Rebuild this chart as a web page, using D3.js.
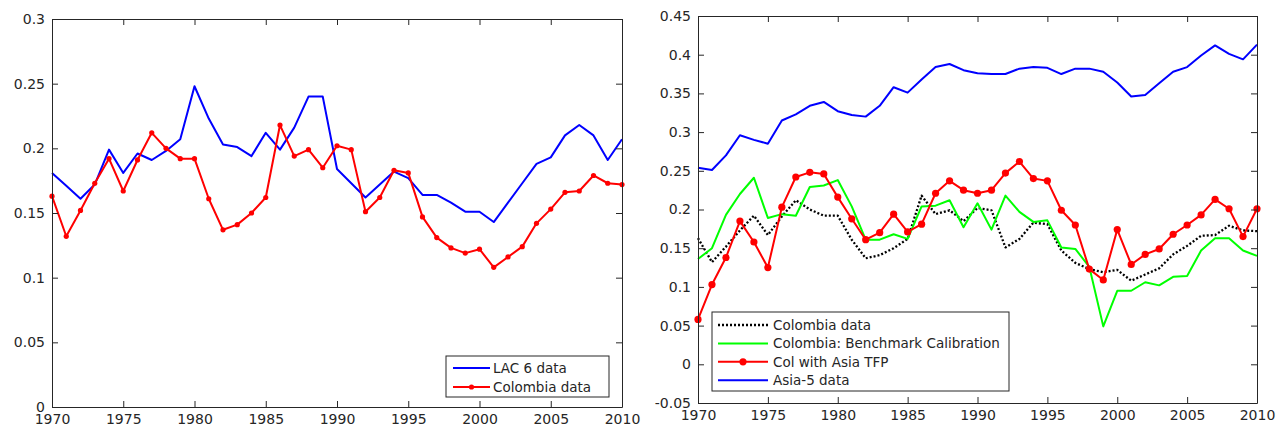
<!DOCTYPE html>
<html>
<head>
<meta charset="utf-8">
<script src="https://cdn.jsdelivr.net/npm/d3@7"></script>
<style>
  body { margin: 0; background: #fff; }
  text { font-family: "DejaVu Sans", sans-serif; fill: #262626; }
</style>
</head>
<body>
<div id="chart"></div>
<script>
// Years 1970..2010
const years = d3.range(1970, 2011);

// Left panel
const lac6 = [0.181, 0.171, 0.161, 0.172, 0.199, 0.181, 0.196, 0.191, 0.198, 0.207,
  0.248, 0.223, 0.203, 0.201, 0.194, 0.212, 0.199, 0.216, 0.240, 0.240,
  0.184, 0.173, 0.162, 0.172, 0.182, 0.177, 0.164, 0.164, 0.158, 0.151,
  0.151, 0.143, 0.158, 0.173, 0.188, 0.193, 0.210, 0.218, 0.210, 0.191, 0.207];
const colombia = [0.163, 0.132, 0.152, 0.173, 0.192, 0.167, 0.191, 0.212, 0.200, 0.192,
  0.192, 0.161, 0.137, 0.141, 0.150, 0.162, 0.218, 0.194, 0.199, 0.185,
  0.202, 0.199, 0.151, 0.162, 0.183, 0.181, 0.147, 0.131, 0.123, 0.119,
  0.122, 0.108, 0.116, 0.124, 0.142, 0.153, 0.166, 0.167, 0.179, 0.173, 0.172];

// Right panel
const benchmark = [0.136, 0.150, 0.193, 0.220, 0.241, 0.189, 0.194, 0.192, 0.229, 0.231,
  0.238, 0.204, 0.161, 0.161, 0.168, 0.162, 0.204, 0.205, 0.212, 0.177,
  0.208, 0.174, 0.218, 0.197, 0.184, 0.186, 0.151, 0.149, 0.126, 0.049,
  0.095, 0.095, 0.106, 0.102, 0.113, 0.114, 0.147, 0.163, 0.163, 0.147, 0.140];
const colAsiaTfp = [0.058, 0.103, 0.138, 0.185, 0.158, 0.125, 0.203, 0.242, 0.248, 0.246,
  0.216, 0.188, 0.161, 0.170, 0.194, 0.171, 0.181, 0.221, 0.237, 0.225,
  0.221, 0.225, 0.247, 0.262, 0.240, 0.237, 0.199, 0.180, 0.123, 0.109,
  0.174, 0.129, 0.142, 0.149, 0.168, 0.180, 0.193, 0.213, 0.201, 0.165, 0.201];
const asia5 = [0.254, 0.251, 0.270, 0.296, 0.290, 0.285, 0.315, 0.323, 0.334, 0.339,
  0.327, 0.322, 0.320, 0.334, 0.358, 0.351, 0.368, 0.384, 0.388, 0.380,
  0.376, 0.375, 0.375, 0.382, 0.384, 0.383, 0.375, 0.382, 0.382, 0.378,
  0.364, 0.346, 0.348, 0.363, 0.378, 0.384, 0.399, 0.412, 0.401, 0.394, 0.413];

const xTicks = [1970, 1975, 1980, 1985, 1990, 1995, 2000, 2005, 2010];
const leftYTicks = [0, 0.05, 0.1, 0.15, 0.2, 0.25, 0.3];
const rightYTicks = [-0.05, 0, 0.05, 0.1, 0.15, 0.2, 0.25, 0.3, 0.35, 0.4, 0.45];

const svg = d3.select("#chart")
  .append("svg")
  .attr("width", 1278)
  .attr("height", 428);

const axisColor = "#262626";
const fmt = d => String(+d.toFixed(2));

function drawPanel(p) {
  const x = d3.scaleLinear().domain([1970, 2010]).range([p.left, p.right]);
  const y = d3.scaleLinear().domain(p.yDomain).range([p.bottom, p.top]);

  const g = svg.append("g");

  // series
  p.series.forEach(s => {
    const pts = years.map((yr, i) => ({ yr, v: s.values[i] }));
    const line = d3.line().x(d => x(d.yr)).y(d => y(d.v));
    g.append("path")
      .datum(pts)
      .attr("fill", "none")
      .attr("stroke", s.color)
      .attr("stroke-width", s.width || 2)
      .attr("stroke-dasharray", s.dash || null)
      .attr("stroke-linejoin", "round")
      .attr("d", line);
    if (s.marker) {
      g.selectAll(null)
        .data(pts)
        .enter().append("circle")
        .attr("cx", d => x(d.yr))
        .attr("cy", d => y(d.v))
        .attr("r", s.marker)
        .attr("fill", s.color);
    }
  });

  // axes (MATLAB style box, ticks inside)
  const styleAxis = sel => {
    sel.selectAll("path, line").attr("stroke", axisColor);
    sel.selectAll("text").style("font-size", "14px").attr("fill", axisColor);
  };
  g.append("g").attr("transform", `translate(0,${p.bottom})`)
    .call(d3.axisBottom(x).tickValues(xTicks).tickFormat(d3.format("d"))
      .tickSizeInner(-6).tickSizeOuter(0).tickPadding(7))
    .call(styleAxis);
  g.append("g").attr("transform", `translate(0,${p.top})`)
    .call(d3.axisTop(x).tickValues(xTicks).tickFormat("")
      .tickSizeInner(-6).tickSizeOuter(0))
    .call(styleAxis);
  g.append("g").attr("transform", `translate(${p.left},0)`)
    .call(d3.axisLeft(y).tickValues(p.yTicks).tickFormat(fmt)
      .tickSizeInner(-6).tickSizeOuter(0).tickPadding(7))
    .call(styleAxis);
  g.append("g").attr("transform", `translate(${p.right},0)`)
    .call(d3.axisRight(y).tickValues(p.yTicks).tickFormat("")
      .tickSizeInner(-6).tickSizeOuter(0))
    .call(styleAxis);
  g.selectAll(".domain").attr("stroke-width", 1);

  // legend
  const L = p.legend;
  g.append("rect")
    .attr("x", L.x).attr("y", L.y)
    .attr("width", L.w).attr("height", L.h)
    .attr("fill", "#fff").attr("stroke", axisColor).attr("stroke-width", 1);
  p.series.forEach((s, i) => {
    const cy = L.y + L.first + i * L.step;
    g.append("line")
      .attr("x1", L.x + L.lx0).attr("x2", L.x + L.lx1)
      .attr("y1", cy).attr("y2", cy)
      .attr("stroke", s.color)
      .attr("stroke-width", s.width || 2)
      .attr("stroke-dasharray", s.dash || null);
    if (s.marker) {
      g.append("circle")
        .attr("cx", L.x + (L.lx0 + L.lx1) / 2).attr("cy", cy)
        .attr("r", s.marker).attr("fill", s.color);
    }
    g.append("text")
      .attr("x", L.x + L.tx).attr("y", cy)
      .attr("dy", "0.36em")
      .style("font-size", "13.5px")
      .text(s.name);
  });
}

drawPanel({
  left: 52, right: 622, top: 19, bottom: 407,
  yDomain: [0, 0.3], yTicks: leftYTicks,
  series: [
    { name: "LAC 6 data", values: lac6, color: "#0000ff" },
    { name: "Colombia data", values: colombia, color: "#ff0000", marker: 2.6 }
  ],
  legend: { x: 446, y: 356, w: 163, h: 41, first: 12, step: 19, lx0: 7, lx1: 44, tx: 47 }
});

drawPanel({
  left: 698, right: 1257, top: 16, bottom: 403,
  yDomain: [-0.05, 0.45], yTicks: rightYTicks,
  series: [
    { name: "Colombia data", values: colombia, color: "#000000", dash: "2,2", width: 2.3 },
    { name: "Colombia: Benchmark Calibration", values: benchmark, color: "#00ff00" },
    { name: "Col with Asia TFP", values: colAsiaTfp, color: "#ff0000", marker: 3.6 },
    { name: "Asia-5 data", values: asia5, color: "#0000ff" }
  ],
  legend: { x: 712, y: 312, w: 297, h: 79, first: 13, step: 18.4, lx0: 6, lx1: 56, tx: 61 }
});
</script>
</body>
</html>
